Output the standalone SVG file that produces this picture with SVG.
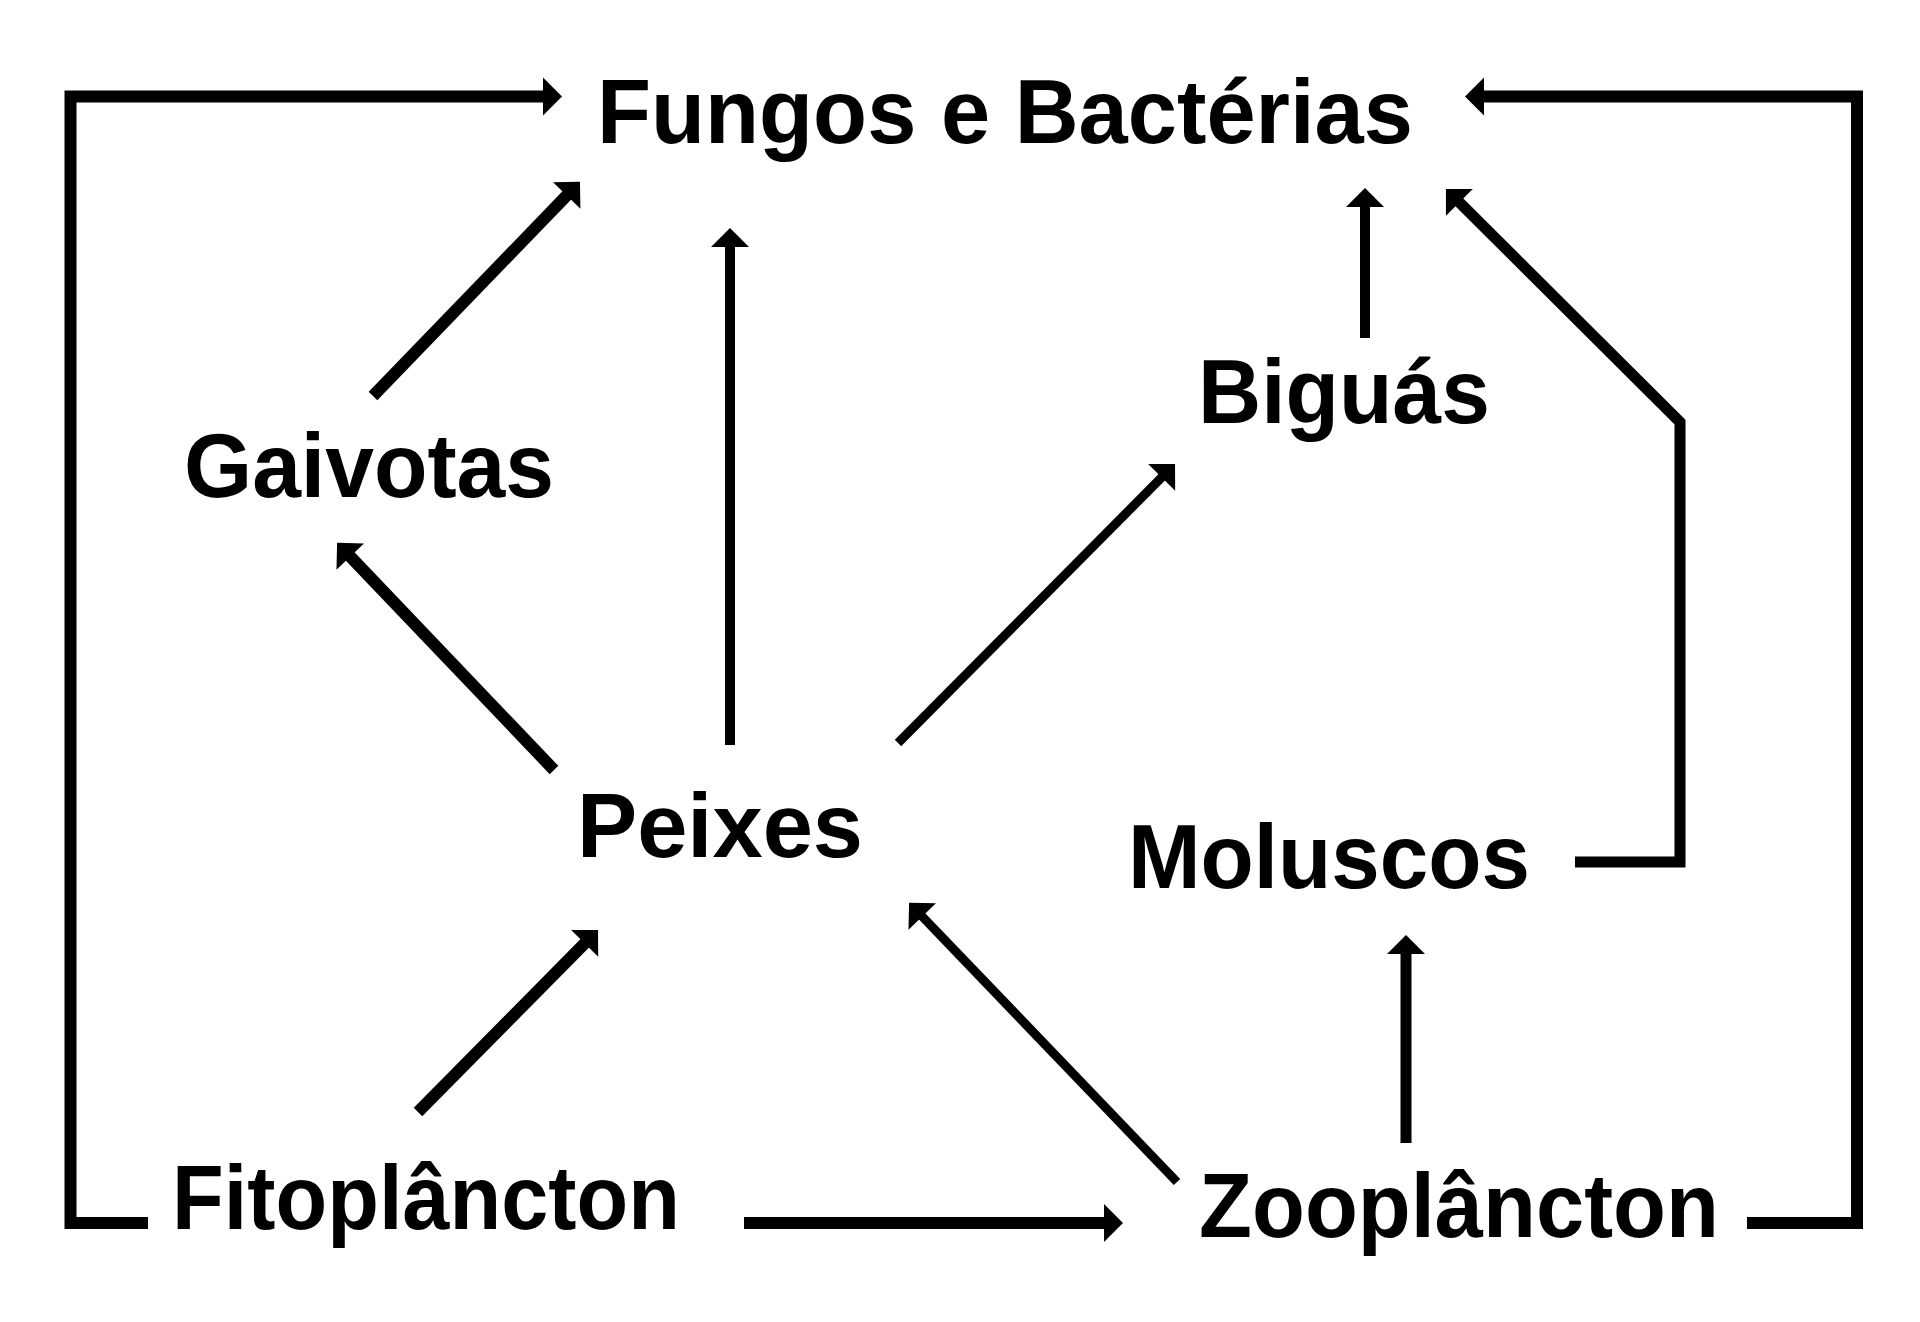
<svg xmlns="http://www.w3.org/2000/svg" width="1920" height="1322" viewBox="0 0 1920 1322">
  <style>
    .lbl { font-family: "Liberation Sans", Arial, sans-serif; font-weight: bold; font-size: 90px; fill: #000; }
    .ln { fill: none; stroke: #000; stroke-linejoin: miter; stroke-linecap: butt; }
  </style>
  <defs>
    <marker id="ah" markerUnits="userSpaceOnUse" viewBox="-10 -20 22 40" markerWidth="22" markerHeight="40" refX="0" refY="0" orient="auto">
      <path d="M10,0 L-9,-19 L-9,19 Z" fill="#000"/>
    </marker>
  </defs>
  <rect width="1920" height="1322" fill="#fff"/>

  <g id="connectors">
    <path class="ln" stroke-width="12" d="M148,1223 H70.5 V96.5 H552" marker-end="url(#ah)"/>
    <path class="ln" stroke-width="12" d="M1747,1223 H1857 V96.5 H1475" marker-end="url(#ah)"/>
    <path class="ln" stroke-width="12" d="M744,1223 H1113" marker-end="url(#ah)"/>
    <path class="ln" stroke-width="12" d="M418,1112 L591,937" marker-end="url(#ah)"/>
    <path class="ln" stroke-width="12" d="M373,396 L573,189" marker-end="url(#ah)"/>
    <path class="ln" stroke-width="12" d="M554,770 L344,550" marker-end="url(#ah)"/>
    <path class="ln" stroke-width="10" d="M730,745 V238" marker-end="url(#ah)"/>
    <path class="ln" stroke-width="9" d="M898,743 L1168,471" marker-end="url(#ah)"/>
    <path class="ln" stroke-width="10" d="M1365,338 V198" marker-end="url(#ah)"/>
    <path class="ln" stroke-width="11" d="M1575,862 H1680 V422 L1453,196" marker-end="url(#ah)"/>
    <path class="ln" stroke-width="11" d="M1406,1143 V945" marker-end="url(#ah)"/>
    <path class="ln" stroke-width="9" d="M1177,1182 L916,910" marker-end="url(#ah)"/>
  </g>

  <g id="fungos"><text class="lbl" x="597" y="143" textLength="816" lengthAdjust="spacingAndGlyphs">Fungos e Bactérias</text></g>
  <g id="gaivotas"><text class="lbl" x="184" y="497" textLength="370" lengthAdjust="spacingAndGlyphs">Gaivotas</text></g>
  <g id="biguas"><text class="lbl" x="1198" y="423" textLength="292" lengthAdjust="spacingAndGlyphs">Biguás</text></g>
  <g id="peixes"><text class="lbl" x="577" y="857" textLength="286" lengthAdjust="spacingAndGlyphs">Peixes</text></g>
  <g id="moluscos"><text class="lbl" x="1128" y="888" textLength="402" lengthAdjust="spacingAndGlyphs">Moluscos</text></g>
  <g id="fitoplancton"><text class="lbl" x="172" y="1229" textLength="508" lengthAdjust="spacingAndGlyphs">Fitoplâncton</text></g>
  <g id="zooplancton"><text class="lbl" x="1199" y="1237" textLength="520" lengthAdjust="spacingAndGlyphs">Zooplâncton</text></g>
</svg>
